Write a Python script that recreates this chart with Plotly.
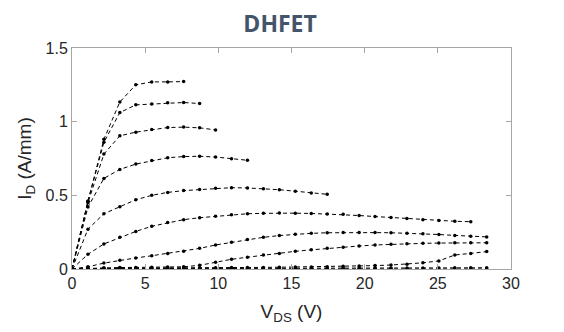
import plotly.graph_objects as go

# Drain voltage sweep points (V)
vds = [0, 1.09, 2.18, 3.27, 4.36, 5.45, 6.54, 7.63, 8.72, 9.81, 10.9, 11.99, 13.08,
       14.17, 15.26, 16.35, 17.44, 18.53, 19.62, 20.71, 21.8, 22.89, 23.98, 25.07,
       26.16, 27.25, 28.34]

# Drain current (A/mm) for each gate-voltage step, top to bottom
id_1 = [0, 0.46, 0.88, 1.134, 1.25, 1.27, 1.27, 1.272]
id_2 = [0, 0.46, 0.86, 1.062, 1.114, 1.12, 1.128, 1.13, 1.123]
id_3 = [0, 0.45, 0.78, 0.904, 0.929, 0.947, 0.96, 0.963, 0.958, 0.944]
id_4 = [0, 0.42, 0.615, 0.676, 0.712, 0.736, 0.755, 0.763, 0.765, 0.76, 0.748, 0.738]
id_5 = [0, 0.27, 0.375, 0.422, 0.47, 0.5, 0.52, 0.532, 0.54, 0.548, 0.552, 0.55,
        0.545, 0.538, 0.528, 0.515, 0.507]
id_6 = [0, 0.1, 0.17, 0.215, 0.255, 0.29, 0.315, 0.335, 0.348, 0.358, 0.368, 0.375,
        0.378, 0.38, 0.379, 0.377, 0.374, 0.371, 0.363, 0.356, 0.349, 0.342, 0.335,
        0.33, 0.324, 0.321]
id_7 = [0, 0.015, 0.04, 0.06, 0.075, 0.09, 0.105, 0.12, 0.14, 0.163, 0.182, 0.2,
        0.215, 0.227, 0.236, 0.242, 0.246, 0.248, 0.248, 0.247, 0.246, 0.243, 0.239,
        0.234, 0.228, 0.223, 0.218]
id_8 = [0, 0.005, 0.008, 0.01, 0.011, 0.012, 0.013, 0.015, 0.025, 0.045, 0.066,
        0.08, 0.095, 0.106, 0.12, 0.13, 0.14, 0.148, 0.156, 0.163, 0.168, 0.172,
        0.174, 0.176, 0.178, 0.178, 0.178]
id_9 = [0, 0.004, 0.005, 0.006, 0.006, 0.007, 0.007, 0.008, 0.008, 0.009, 0.01,
        0.01, 0.011, 0.012, 0.013, 0.014, 0.016, 0.018, 0.02, 0.023, 0.027, 0.032,
        0.042, 0.055, 0.095, 0.106, 0.118]
id_10 = [0, 0.002, 0.002, 0.003, 0.003, 0.003, 0.003, 0.004, 0.004, 0.004, 0.004,
         0.004, 0.005, 0.005, 0.005, 0.005, 0.005, 0.006, 0.006, 0.006, 0.006,
         0.007, 0.007, 0.007, 0.008, 0.008, 0.009]
id_11 = [0, 0, 0, 0, 0, 0, 0, 0, 0, 0, 0, 0, 0, 0, 0, 0, 0, 0, 0, 0, 0, 0, 0, 0,
         0, 0, 0]

curves = [id_1, id_2, id_3, id_4, id_5, id_6, id_7, id_8, id_9, id_10, id_11]

x_ticks = [0, 5, 10, 15, 20, 25, 30]
y_ticks = [0, 0.5, 1, 1.5]
y_tick_text = ["0", "0.5", "1", "1.5"]

fig = go.Figure()
for ys in curves:
    fig.add_trace(go.Scatter(
        x=vds[:len(ys)], y=ys, mode="lines+markers",
        line=dict(color="black", width=1, dash="4px,3px"),
        marker=dict(color="black", size=3.5, symbol="circle"),
        showlegend=False, hoverinfo="skip"))

axis_font = dict(family="Liberation Sans, Arial, sans-serif", size=16, color="#262626")
title_font = dict(family="Liberation Sans, Arial, sans-serif", size=19, color="#262626")
fig.update_layout(
    width=564, height=332,
    margin=dict(l=64, r=61, t=40, b=71, autoexpand=False),
    paper_bgcolor="white", plot_bgcolor="white",
    title=dict(text="<b>DHFET</b>", xref="paper", x=0.474, xanchor="center",
               yref="container", y=0.951, yanchor="middle",
               font=dict(family="Open Sans, sans-serif", size=23, color="#44546A")),
    xaxis=dict(range=[0, 30], tickvals=x_ticks, ticks="inside", ticklen=5,
               tickcolor="#A6A6A6", showline=True, linecolor="#A6A6A6", linewidth=1,
               mirror="ticks", showgrid=False, zeroline=False, tickfont=axis_font,
               automargin=False,
               title=dict(text="V<sub>DS</sub> (V)", standoff=13, font=title_font)),
    yaxis=dict(range=[0, 1.5], tickvals=y_ticks, ticktext=y_tick_text, ticks="inside", ticklen=5,
               tickcolor="#A6A6A6", showline=True, linecolor="#A6A6A6", linewidth=1,
               mirror="ticks", showgrid=False, zeroline=False, tickfont=axis_font,
               automargin=False,
               title=dict(text="I<sub>D</sub> (A/mm)", standoff=8, font=title_font)),
)

fig.write_html("out.html")
